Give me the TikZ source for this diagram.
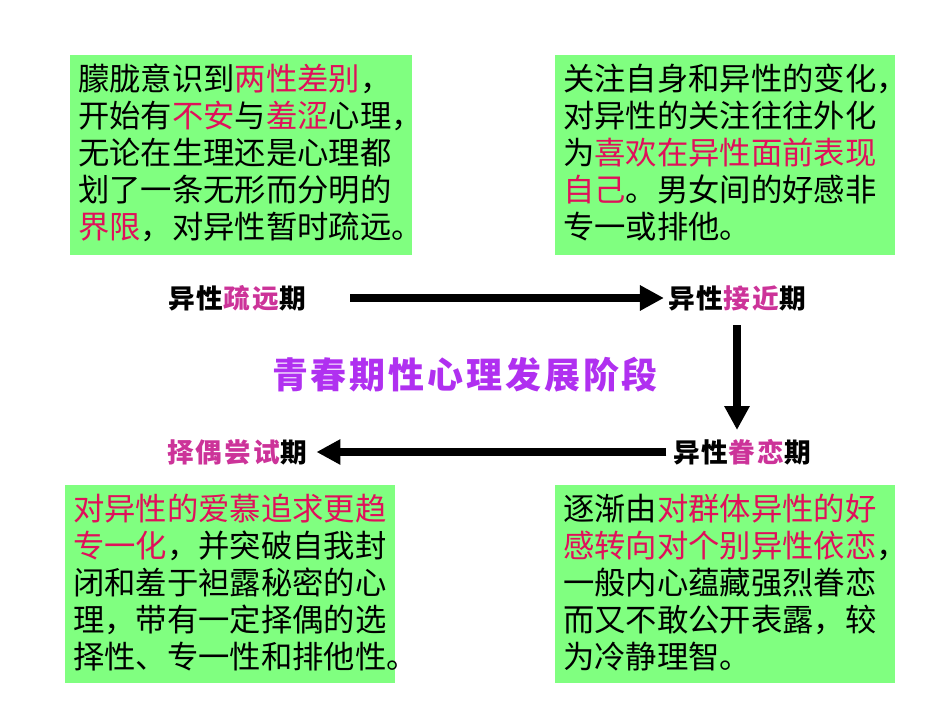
\documentclass[tikz,border=0pt]{standalone}
\usepackage{fontspec}
\setmainfont{Noto Sans CJK SC}
\newfontfamily\cjkbold[LetterSpace=8]{Noto Sans CJK SC Black}
\usetikzlibrary{arrows.meta}
\definecolor{boxgreen}{HTML}{80FF80}
\definecolor{hired}{HTML}{E0105A}
\definecolor{labpink}{HTML}{CC3399}
\definecolor{titlepurple}{HTML}{B030F0}
\newcommand{\hl}[1]{\textcolor{hired}{#1}}
\newcommand{\lp}[1]{\textcolor{labpink}{#1}}
\begin{document}
\begin{tikzpicture}[x=0.75pt,y=-0.75pt]
%styles
\tikzstyle{textbox}=[rectangle, anchor=north west, inner xsep=6pt, inner ysep=5pt, align=left, font=\fontsize{23.5}{27.8}\selectfont, text=black]
\tikzstyle{stage}=[rectangle, inner sep=1pt, font=\cjkbold\fontsize{20}{22}\selectfont]
\tikzstyle{flow}=[-{Triangle[length=18pt,width=18pt]}, line width=5.5pt]
\useasboundingbox (0,0) rectangle (950,713);
%boxes
\fill[boxgreen] (70,55) rectangle (412,255);
\fill[boxgreen] (555,55) rectangle (895,255);
\fill[boxgreen] (65,485) rectangle (395,683);
\fill[boxgreen] (555,485) rectangle (895,683);
\node[textbox] (b1) at (70,57) {朦胧意识到\hl{两性差别}，\\开始有\hl{不安}与\hl{羞涩}心理，\\无论在生理还是心理都\\划了一条无形而分明的\\\hl{界限}，对异性暂时疏远。};
\node[textbox] (b2) at (555,57) {关注自身和异性的变化，\\对异性的关注往往外化\\为\hl{喜欢在异性面前表现}\\\hl{自己}。男女间的好感非\\专一或排他。};
\node[textbox] (b3) at (65,487) {\hl{对异性的爱慕追求更趋}\\\hl{专一化}，并突破自我封\\闭和羞于袒露秘密的心\\理，带有一定择偶的选\\择性、专一性和排他性。};
\node[textbox] (b4) at (555,487) {逐渐由\hl{对群体异性的好}\\\hl{感转向对个别异性依恋}，\\一般内心蕴藏强烈眷恋\\而又不敢公开表露，较\\为冷静理智。};
%stages
\node[stage] (s1) at (237,298) {异性\lp{疏远}期};
\node[stage] (s2) at (737,298) {异性\lp{接近}期};
\node[stage] (s3) at (742,452) {异性\lp{眷恋}期};
\node[stage] (s4) at (237,452) {\lp{择偶尝试}期};
\node[font=\cjkbold\fontsize{27}{30}\selectfont, text=titlepurple] (title) at (465,375) {青春期性心理发展阶段};
\coordinate (v1) at (737,325);
\coordinate (v2) at (737,430);
%arrows
\draw[flow] (350,298) coordinate (a1) -- ([xshift=-2]s2.west);
\draw[flow] (v1) -- (v2);
\draw[flow] ([xshift=-4]s3.west) -- ([xshift=6]s4.east);
\end{tikzpicture}
\end{document}
